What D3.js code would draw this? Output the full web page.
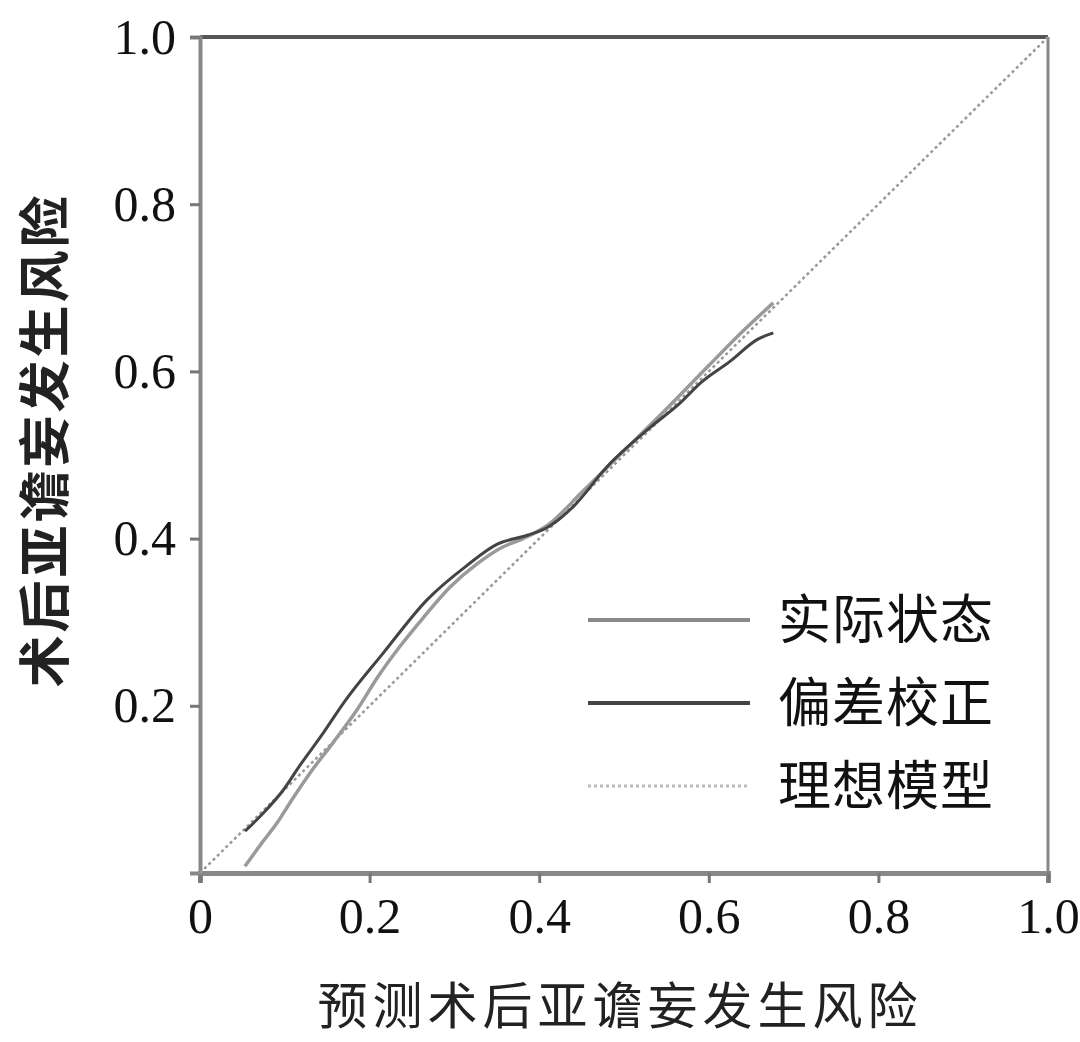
<!DOCTYPE html>
<html><head><meta charset="utf-8">
<script src="https://cdn.jsdelivr.net/npm/d3@7"></script>
<style>body{margin:0;background:#fff}</style>
</head><body>
<svg id="c" width="1080" height="1042"></svg>
<script>
const xTicks = [0, 0.2, 0.4, 0.6, 0.8, 1.0];
const xTickLabels = ["0", "0.2", "0.4", "0.6", "0.8", "1.0"];
const yTicks = [0.2, 0.4, 0.6, 0.8, 1.0];
const yTickLabels = ["0.2", "0.4", "0.6", "0.8", "1.0"];
const xTitle = "预测术后亚谵妄发生风险";
const yTitle = "术后亚谵妄发生风险";
const seriesNames = ["实际状态", "偏差校正", "理想模型"];

const apparentX = [0.053,0.073,0.091,0.108,0.13,0.157,0.185,0.21,0.235,0.263,0.295,0.327,0.357,0.381,0.41,0.45,0.5,0.55,0.6,0.64,0.676];
const apparentY = [0.008,0.036,0.06,0.087,0.12,0.156,0.195,0.235,0.27,0.305,0.342,0.37,0.39,0.4,0.416,0.455,0.505,0.555,0.607,0.648,0.682];

const correctedX = [0.053,0.075,0.098,0.118,0.145,0.169,0.216,0.268,0.315,0.35,0.386,0.409,0.44,0.48,0.531,0.566,0.59,0.625,0.657,0.676];
const correctedY = [0.05,0.072,0.099,0.129,0.167,0.203,0.263,0.327,0.368,0.393,0.404,0.413,0.438,0.486,0.533,0.562,0.586,0.612,0.638,0.646];

const idealX = [0, 1];
const idealY = [0, 1];

const svg = d3.select("#c");
const L = 200, R = 1048, T = 37, B = 873;
const x = d3.scaleLinear().domain([0,1]).range([L,R]);
const y = d3.scaleLinear().domain([0,1]).range([B,T]);

const serif = "'Liberation Serif','DejaVu Serif',serif";
const cjk = "'Noto Sans CJK SC','Noto Sans CJK JP',sans-serif";

// box top and right
svg.append("line").attr("x1",L).attr("x2",R).attr("y1",T).attr("y2",T).attr("stroke","#555").attr("stroke-width",4);
svg.append("line").attr("x1",R).attr("x2",R).attr("y1",T).attr("y2",B).attr("stroke","#888").attr("stroke-width",3);

// axes
const xAxis = d3.axisBottom(x).tickValues(xTicks).tickFormat((d,i)=>xTickLabels[i]).tickSize(10).tickPadding(14);
const gx = svg.append("g").attr("transform",`translate(0,${B})`).call(xAxis);
gx.select(".domain").attr("stroke","#888").attr("stroke-width",5);
gx.selectAll(".tick line").attr("stroke","#777").attr("stroke-width",3);
gx.selectAll(".tick text").attr("font-family",serif).attr("font-size",50).attr("fill","#111");

const yAxis = d3.axisLeft(y).tickValues(yTicks).tickFormat((d,i)=>yTickLabels[i]).tickSize(10).tickPadding(14);
const gy = svg.append("g").attr("transform",`translate(${L},0)`).call(yAxis);
gy.select(".domain").attr("stroke","#888").attr("stroke-width",4);
gy.selectAll(".tick line").attr("stroke","#777").attr("stroke-width",3);
gy.selectAll(".tick text").attr("font-family",serif).attr("font-size",50).attr("fill","#111");

// lines
const line = d3.line().x(d=>x(d[0])).y(d=>y(d[1])).curve(d3.curveMonotoneX);
const idealData = idealX.map((v,i)=>[v, idealY[i]]);
const appData = apparentX.map((v,i)=>[v, apparentY[i]]);
const corData = correctedX.map((v,i)=>[v, correctedY[i]]);

svg.append("path").datum(idealData).attr("d", d3.line().x(d=>x(d[0])).y(d=>y(d[1])))
  .attr("fill","none").attr("stroke","#999").attr("stroke-width",2.5).attr("stroke-dasharray","3,3");
svg.append("path").datum(appData).attr("d", line)
  .attr("fill","none").attr("stroke","#9a9a9a").attr("stroke-width",3.5);
svg.append("path").datum(corData).attr("d", line)
  .attr("fill","none").attr("stroke","#444").attr("stroke-width",3);

// legend
const legColors = ["#8a8a8a","#444","#bbb"];
const legDash = [null, null, "3,3"];
const legY = [620, 703, 786];
seriesNames.forEach((n,i)=>{
  svg.append("line").attr("x1",588).attr("x2",750).attr("y1",legY[i]).attr("y2",legY[i])
    .attr("stroke",legColors[i]).attr("stroke-width", i===2?3:4).attr("stroke-dasharray",legDash[i]);
  svg.append("text").attr("x",778).attr("y",legY[i]).attr("dy","0.36em")
    .attr("font-family",cjk).attr("font-size",53).attr("letter-spacing",1).attr("fill","#111").text(n);
});

// titles
svg.append("text").attr("x",620).attr("y",1006).attr("dy","0.36em").attr("text-anchor","middle")
  .attr("font-family",cjk).attr("font-size",50).attr("letter-spacing",5).attr("fill","#222").text(xTitle);
svg.append("text").attr("transform","translate(45,440) rotate(-90)").attr("dy","0.36em").attr("text-anchor","middle")
  .attr("font-family",cjk).attr("font-size",52).attr("font-weight","bold").attr("letter-spacing",3).attr("fill","#222").text(yTitle);
</script>
</body></html>
